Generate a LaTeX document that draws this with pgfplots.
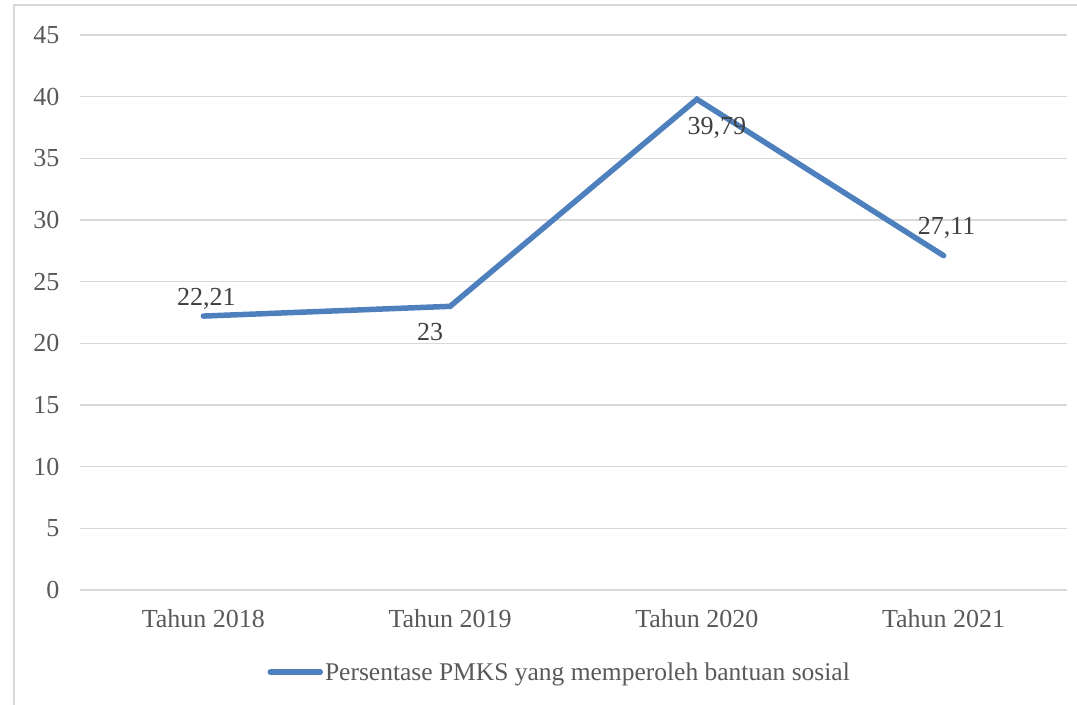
\documentclass[border=0pt]{standalone}
\usepackage{pgfplots}
\pgfplotsset{compat=1.18}
\usepackage{fontspec}
\setmainfont{Liberation Serif}
\definecolor{linec}{HTML}{4E80BD}
\definecolor{gridc}{HTML}{D9D9D9}
\definecolor{txt}{HTML}{595959}
\definecolor{lbl}{HTML}{404040}
\begin{document}
\begin{tikzpicture}
\path[use as bounding box] (0,0) rectangle (1077bp,705bp);
\draw[gridc, line width=1.5bp] (14bp,0) -- (14bp,700bp) -- (1077bp,700bp);
\begin{axis}[
  at={(80bp,115bp)}, anchor=south west,
  scale only axis, width=987bp, height=555bp,
  xmin=-0.5, xmax=3.5, ymin=0, ymax=45,
  xtick={0,1,2,3},
  xticklabels={Tahun 2018,Tahun 2019,Tahun 2020,Tahun 2021},
  ytick={0,5,...,45},
  ymajorgrids, grid style={gridc, line width=1.5bp},
  axis line style={draw=none},
  major tick length=0pt,
  tick label style={font=\fontsize{26bp}{29bp}\selectfont, text=txt},
  /pgf/number format/assume math mode=true,
  yticklabel style={xshift=-17bp},
  xticklabel style={yshift=-16bp},
  legend style={at={(axis description cs:0.486,-0.148)}, anchor=center, draw=none, fill=none,
    font=\fontsize{25.5bp}{28bp}\selectfont, text=txt, inner sep=0pt},
  legend cell align=left,
  legend image code/.code={\draw[line width=5.5bp, line cap=round, linec] (0bp,0bp) -- (50bp,0bp);},
]
\addplot[linec, line width=5.5bp, line cap=round, line join=miter] coordinates {(0,22.21) (1,23) (2,39.79) (3,27.11)};
\addlegendentry{Persentase PMKS yang memperoleh bantuan sosial}
\node[text=lbl, font=\fontsize{26bp}{29bp}\selectfont] at (axis cs:0,22.21) [xshift=3bp, yshift=17bp] {22,21};
\node[text=lbl, font=\fontsize{26bp}{29bp}\selectfont] at (axis cs:1,23) [xshift=-20bp, yshift=-26bp] {23};
\node[text=lbl, font=\fontsize{26bp}{29bp}\selectfont] at (axis cs:2,39.79) [xshift=20bp, yshift=-29bp] {39,79};
\node[text=lbl, font=\fontsize{26bp}{29bp}\selectfont] at (axis cs:3,27.11) [xshift=3bp, yshift=28bp] {27,11};
\end{axis}
\end{tikzpicture}
\end{document}
